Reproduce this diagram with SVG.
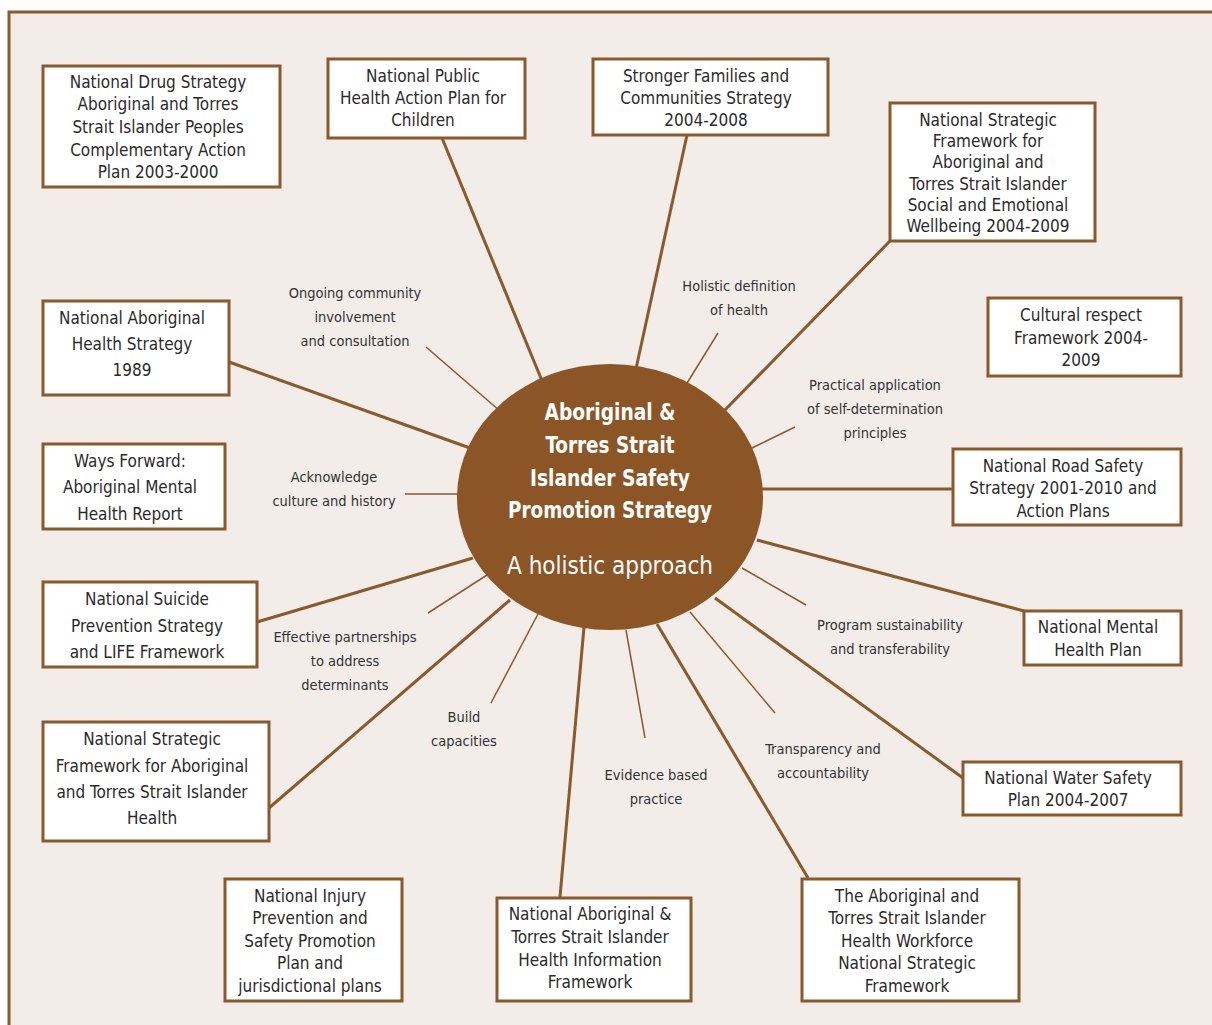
<svg xmlns="http://www.w3.org/2000/svg" width="1212" height="1025" viewBox="0 0 1212 1025">
<style>
.frame{fill:#f2ede9;stroke:#8b5a2b;stroke-width:3}
.box{fill:#ffffff;stroke:#8b5a2b;stroke-width:3}
.bt{font-family:"Liberation Sans Narrow","DejaVu Sans Condensed","Liberation Sans",sans-serif;font-size:17px;fill:#2b2b2b;text-anchor:middle}
.lt{font-family:"Liberation Sans Narrow","DejaVu Sans Condensed","Liberation Sans",sans-serif;font-size:14.5px;fill:#333333;text-anchor:middle}
.thick{stroke:#8b5a2b;stroke-width:3;fill:none}
.thin{stroke:#8b5a2b;stroke-width:1.5;fill:none}
.ct{font-family:"Liberation Sans Narrow","DejaVu Sans Condensed","Liberation Sans",sans-serif;fill:#ffffff;text-anchor:middle}
</style>
<rect x="0" y="0" width="1212" height="1025" fill="#ffffff"/>
<rect class="frame" x="9" y="12" width="1220" height="1030"/>
<g id="connectors">
<line class="thick" x1="442" y1="138" x2="545" y2="388"/>
<line class="thick" x1="687" y1="135" x2="634" y2="378"/>
<line class="thick" x1="890" y1="241" x2="722" y2="413"/>
<line class="thick" x1="229" y1="362" x2="470" y2="448"/>
<line class="thick" x1="953" y1="489" x2="762" y2="489"/>
<line class="thick" x1="257" y1="622" x2="473" y2="558"/>
<line class="thick" x1="1024" y1="611" x2="757" y2="540"/>
<line class="thick" x1="269" y1="808" x2="510" y2="600"/>
<line class="thick" x1="963" y1="778" x2="715" y2="598"/>
<line class="thick" x1="560" y1="897" x2="584" y2="627"/>
<line class="thick" x1="808" y1="878" x2="657" y2="624"/>
<line class="thin" x1="426" y1="347" x2="500" y2="411"/>
<line class="thin" x1="718" y1="333" x2="684" y2="388"/>
<line class="thin" x1="795" y1="427" x2="750" y2="449"/>
<line class="thin" x1="405" y1="494" x2="458" y2="494"/>
<line class="thin" x1="428" y1="613" x2="487" y2="575"/>
<line class="thin" x1="491" y1="703" x2="538" y2="614"/>
<line class="thin" x1="645" y1="738" x2="626" y2="630"/>
<line class="thin" x1="806" y1="605" x2="742" y2="568"/>
<line class="thin" x1="775" y1="713" x2="690" y2="612"/>
</g>
<g id="center">
<ellipse cx="610" cy="497" rx="153" ry="133" fill="#8b5526"/>
<text class="ct" x="610" y="420" font-size="23" font-weight="bold" textLength="131" lengthAdjust="spacingAndGlyphs">Aboriginal &amp;</text>
<text class="ct" x="610" y="453" font-size="23" font-weight="bold" textLength="129" lengthAdjust="spacingAndGlyphs">Torres Strait</text>
<text class="ct" x="610" y="486" font-size="23" font-weight="bold" textLength="160" lengthAdjust="spacingAndGlyphs">Islander Safety</text>
<text class="ct" x="610" y="518" font-size="23" font-weight="bold" textLength="204" lengthAdjust="spacingAndGlyphs">Promotion Strategy</text>
<text class="ct" x="610" y="574" font-size="24">A holistic approach</text>
</g>
<g id="labels">
<text class="lt" x="355" y="298">Ongoing community</text>
<text class="lt" x="355" y="322">involvement</text>
<text class="lt" x="355" y="346">and consultation</text>
<text class="lt" x="739" y="291">Holistic definition</text>
<text class="lt" x="739" y="315">of health</text>
<text class="lt" x="875" y="390">Practical application</text>
<text class="lt" x="875" y="414">of self-determination</text>
<text class="lt" x="875" y="438">principles</text>
<text class="lt" x="334" y="482">Acknowledge</text>
<text class="lt" x="334" y="506">culture and history</text>
<text class="lt" x="345" y="642">Effective partnerships</text>
<text class="lt" x="345" y="666">to address</text>
<text class="lt" x="345" y="690">determinants</text>
<text class="lt" x="464" y="722">Build</text>
<text class="lt" x="464" y="746">capacities</text>
<text class="lt" x="656" y="780">Evidence based</text>
<text class="lt" x="656" y="804">practice</text>
<text class="lt" x="890" y="630">Program sustainability</text>
<text class="lt" x="890" y="654">and transferability</text>
<text class="lt" x="823" y="754">Transparency and</text>
<text class="lt" x="823" y="778">accountability</text>
</g>
<g id="n-drug">
<rect class="box" x="43" y="66" width="237" height="121"/>
<text class="bt" x="158" y="88">National Drug Strategy</text>
<text class="bt" x="158" y="110">Aboriginal and Torres</text>
<text class="bt" x="158" y="133">Strait Islander Peoples</text>
<text class="bt" x="158" y="156">Complementary Action</text>
<text class="bt" x="158" y="178">Plan 2003-2000</text>
</g>
<g id="n-public">
<rect class="box" x="328" y="59" width="197" height="79"/>
<text class="bt" x="423" y="82">National Public</text>
<text class="bt" x="423" y="104">Health Action Plan for</text>
<text class="bt" x="423" y="126">Children</text>
</g>
<g id="n-stronger">
<rect class="box" x="593" y="59" width="235" height="76"/>
<text class="bt" x="706" y="82">Stronger Families and</text>
<text class="bt" x="706" y="104">Communities Strategy</text>
<text class="bt" x="706" y="126">2004-2008</text>
</g>
<g id="n-sewb">
<rect class="box" x="890" y="103" width="205" height="138"/>
<text class="bt" x="988" y="126">National Strategic</text>
<text class="bt" x="988" y="147">Framework for</text>
<text class="bt" x="988" y="168">Aboriginal and</text>
<text class="bt" x="988" y="190">Torres Strait Islander</text>
<text class="bt" x="988" y="211">Social and Emotional</text>
<text class="bt" x="988" y="232">Wellbeing 2004-2009</text>
</g>
<g id="n-cultural">
<rect class="box" x="988" y="298" width="193" height="78"/>
<text class="bt" x="1081" y="321">Cultural respect</text>
<text class="bt" x="1081" y="344">Framework 2004-</text>
<text class="bt" x="1081" y="366">2009</text>
</g>
<g id="n-ahs">
<rect class="box" x="43" y="301" width="186" height="94"/>
<text class="bt" x="132" y="324">National Aboriginal</text>
<text class="bt" x="132" y="350">Health Strategy</text>
<text class="bt" x="132" y="376">1989</text>
</g>
<g id="n-ways">
<rect class="box" x="43" y="444" width="182" height="85"/>
<text class="bt" x="130" y="467">Ways Forward:</text>
<text class="bt" x="130" y="493">Aboriginal Mental</text>
<text class="bt" x="130" y="520">Health Report</text>
</g>
<g id="n-road">
<rect class="box" x="953" y="449" width="228" height="76"/>
<text class="bt" x="1063" y="472">National Road Safety</text>
<text class="bt" x="1063" y="494">Strategy 2001-2010 and</text>
<text class="bt" x="1063" y="517">Action Plans</text>
</g>
<g id="n-suicide">
<rect class="box" x="43" y="582" width="214" height="85"/>
<text class="bt" x="147" y="605">National Suicide</text>
<text class="bt" x="147" y="632">Prevention Strategy</text>
<text class="bt" x="147" y="658">and LIFE Framework</text>
</g>
<g id="n-mental">
<rect class="box" x="1024" y="611" width="157" height="54"/>
<text class="bt" x="1098" y="633">National Mental</text>
<text class="bt" x="1098" y="656">Health Plan</text>
</g>
<g id="n-nsfh">
<rect class="box" x="43" y="722" width="226" height="119"/>
<text class="bt" x="152" y="745">National Strategic</text>
<text class="bt" x="152" y="772">Framework for Aboriginal</text>
<text class="bt" x="152" y="798">and Torres Strait Islander</text>
<text class="bt" x="152" y="824">Health</text>
</g>
<g id="n-water">
<rect class="box" x="963" y="762" width="218" height="53"/>
<text class="bt" x="1068" y="784">National Water Safety</text>
<text class="bt" x="1068" y="806">Plan 2004-2007</text>
</g>
<g id="n-injury">
<rect class="box" x="225" y="879" width="177" height="122"/>
<text class="bt" x="310" y="902">National Injury</text>
<text class="bt" x="310" y="924">Prevention and</text>
<text class="bt" x="310" y="947">Safety Promotion</text>
<text class="bt" x="310" y="969">Plan and</text>
<text class="bt" x="310" y="992">jurisdictional plans</text>
</g>
<g id="n-info">
<rect class="box" x="497" y="898" width="194" height="103"/>
<text class="bt" x="590" y="920">National Aboriginal &amp;</text>
<text class="bt" x="590" y="943">Torres Strait Islander</text>
<text class="bt" x="590" y="966">Health Information</text>
<text class="bt" x="590" y="988">Framework</text>
</g>
<g id="n-workforce">
<rect class="box" x="802" y="879" width="217" height="122"/>
<text class="bt" x="907" y="902">The Aboriginal and</text>
<text class="bt" x="907" y="924">Torres Strait Islander</text>
<text class="bt" x="907" y="947">Health Workforce</text>
<text class="bt" x="907" y="969">National Strategic</text>
<text class="bt" x="907" y="992">Framework</text>
</g>
</svg>
